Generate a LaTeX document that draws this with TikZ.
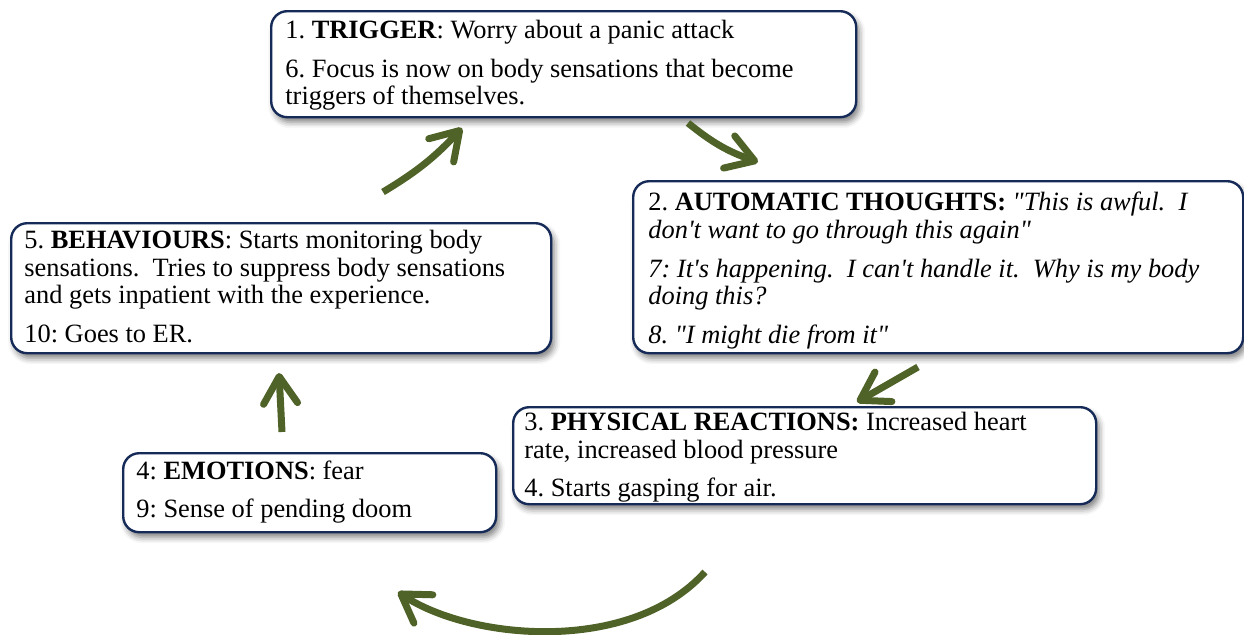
\documentclass[tikz,border=0pt]{standalone}
\usepackage{fontspec}
\setmainfont{Liberation Serif}[Ligatures=TeXOff]
\usetikzlibrary{arrows.meta,shadows.blur}
\definecolor{boxline}{RGB}{22,42,88}
\definecolor{arrowgreen}{RGB}{79,98,40}
\tikzset{
 cbox/.style={draw=boxline, line width=1.2pt, fill=white, rounded corners=8pt, inner sep=0pt, anchor=north west,
   blur shadow={shadow xshift=1.5pt, shadow yshift=-2.5pt, shadow blur radius=3pt, shadow opacity=50}},
 ctext/.style={anchor=north west, inner sep=0pt, align=left, font=\fontsize{13.2}{13.8}\selectfont\frenchspacing},
 flow/.style={draw=arrowgreen, line width=3.5pt, -{Straight Barb[length=13.5pt,width=17pt,round]}},
}
\begin{document}
\begin{tikzpicture}[x=0.5pt,y=-0.5pt]
\useasboundingbox (0,0) rectangle (1244,634);
% boxes
\node[cbox, minimum width=292.5pt, minimum height=53pt] (b1) at (270,10) {};
\node[cbox, minimum width=305pt, minimum height=86pt] (b2) at (632,180) {};
\node[cbox, minimum width=291.5pt, minimum height=48.5pt] (b3) at (512,406) {};
\node[cbox, minimum width=186.5pt, minimum height=39.5pt] (b4) at (122,452) {};
\node[cbox, minimum width=270pt, minimum height=65pt] (b5) at (10,222) {};
% texts
\node[ctext] (t1) at ([shift={(15,10)}]b1.north west) {1. \textbf{TRIGGER}: Worry about a panic attack\\[5.5pt]
6. Focus is now on body sensations that become\\ triggers of themselves.};
\node[ctext] (t2) at ([shift={(16,12)}]b2.north west) {2. \textbf{AUTOMATIC THOUGHTS:} \textit{"This is awful.\ \ I}\\ \textit{don't want to go through this again"}\\[5.5pt]
\textit{7: It's happening.\ \ I can't handle it.\ \ Why is my body}\\ \textit{doing this?}\\[5.5pt]
\textit{8. "I might die from it"}};
\node[ctext] (t3) at ([shift={(12,6)}]b3.north west) {3. \textbf{PHYSICAL REACTIONS:} Increased heart\\ rate, increased blood pressure\\[5.5pt]
4. Starts gasping for air.};
\node[ctext] (t4) at ([shift={(14,8)}]b4.north west) {4: \textbf{EMOTIONS}: fear\\[5.5pt]
9: Sense of pending doom};
\node[ctext] (t5) at ([shift={(14,8)}]b5.north west) {5. \textbf{BEHAVIOURS}: Starts monitoring body\\ sensations.\ \ Tries to suppress body sensations\\ and gets inpatient with the experience.\\[5.5pt]
10: Goes to ER.};
% arrow end points
\coordinate (a1s) at (383,192); \coordinate (a1e) at (462,128);
\coordinate (a2s) at (688,123); \coordinate (a2e) at (758,162);
\coordinate (a3s) at (918,367); \coordinate (a3e) at (857,402);
\coordinate (a4s) at (705,572); \coordinate (a4e) at (398,592);
\coordinate (a5s) at (282,432); \coordinate (a5e) at (279,373);
\draw[flow] (a1s) to[bend right=8] (a1e);
\draw[flow] (a2s) to[bend right=10] (a2e);
\draw[flow] (a3s) -- (a3e);
\draw[flow] (a4s) .. controls (630,655) and (470,640) .. (a4e);
\draw[flow] (a5s) -- (a5e);
\end{tikzpicture}
\end{document}
